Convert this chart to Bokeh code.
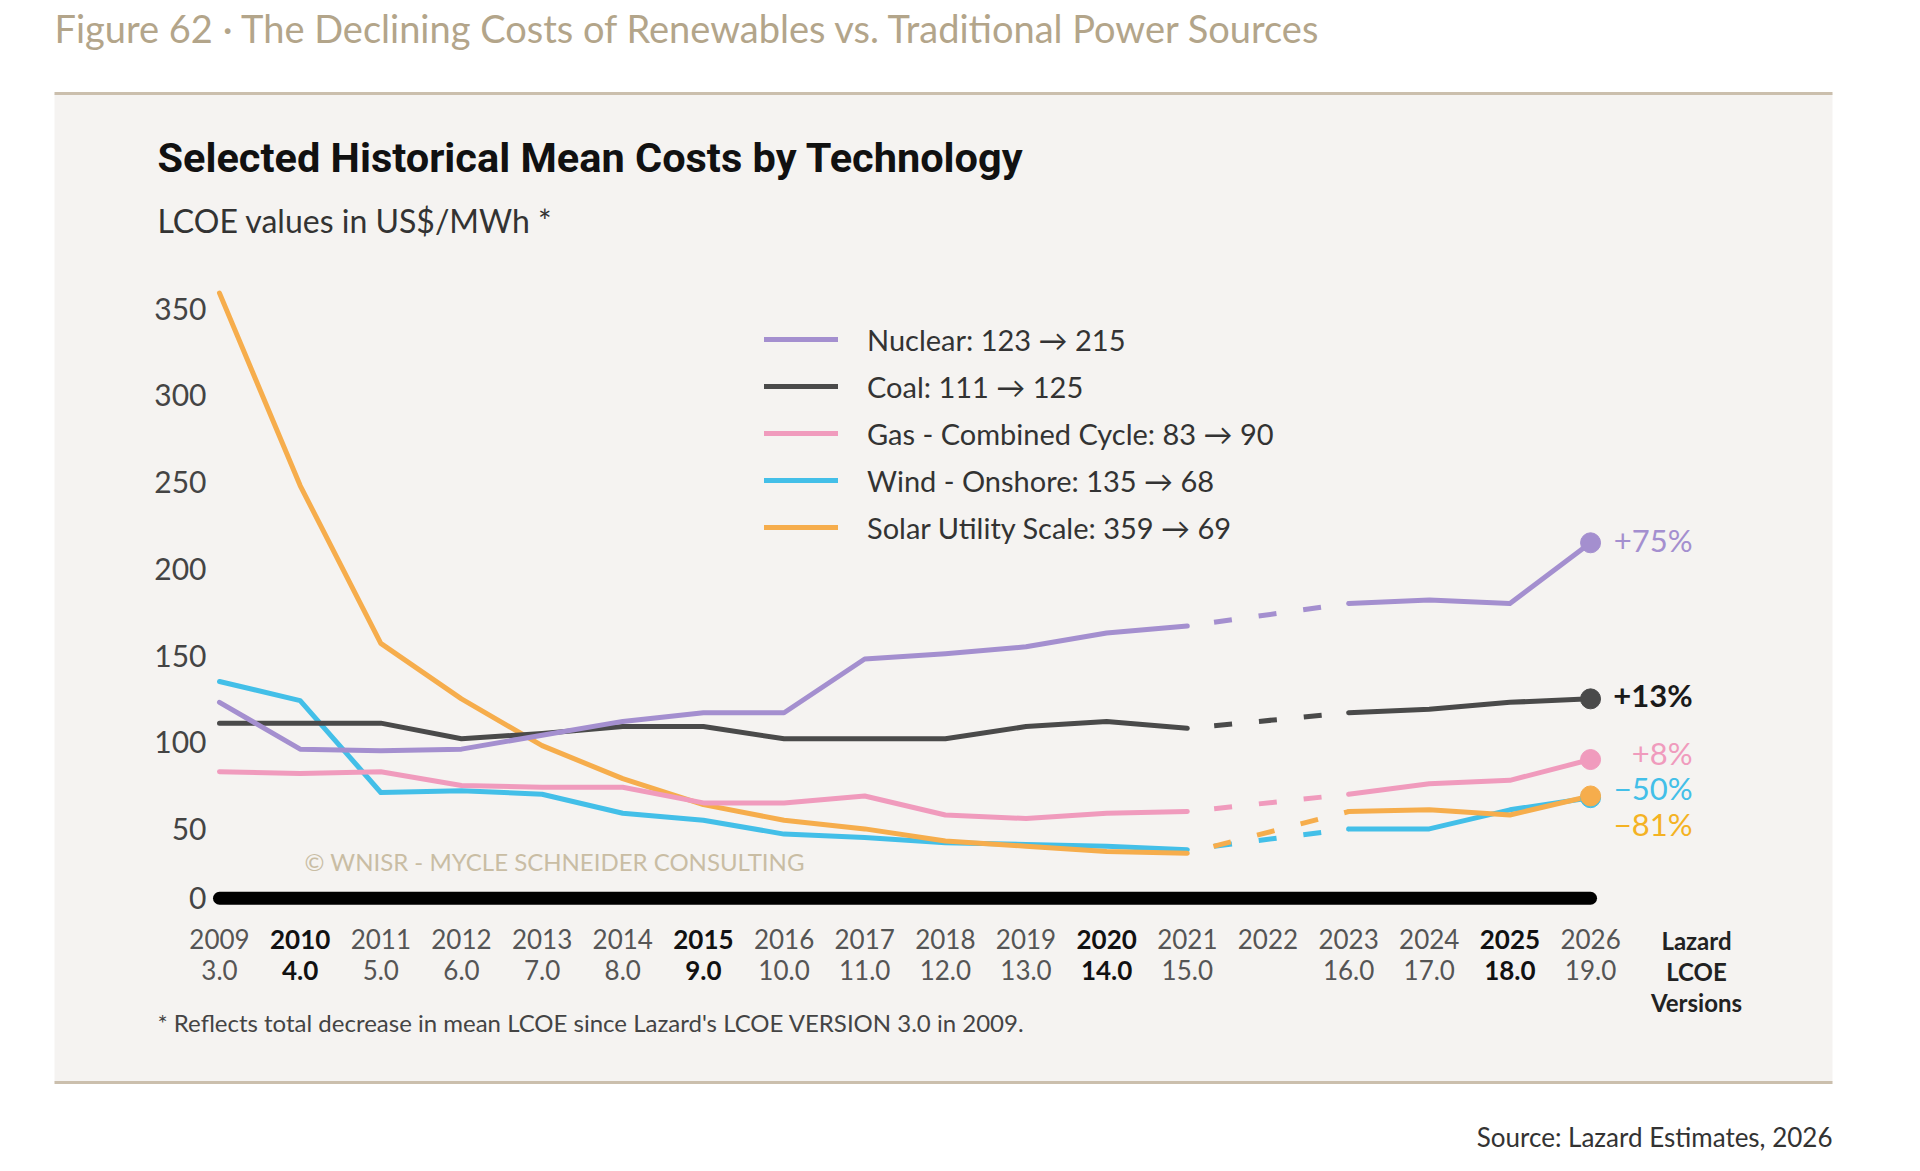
from bokeh.plotting import figure
from bokeh.models import (Range1d, LinearAxis, FixedTicker, Label, Legend,
                          LegendItem, BoxAnnotation, ColumnDataSource)
from bokeh.core.properties import value, field
from bokeh.embed import file_html
from bokeh.resources import INLINE

# ---------------- data ----------------
YEARS = [2009, 2010, 2011, 2012, 2013, 2014, 2015, 2016, 2017, 2018, 2019,
         2020, 2021, 2023, 2024, 2025, 2026]
NUCLEAR = [123, 96, 95, 96, 104, 112, 117, 117, 148, 151, 155, 163, 167, 180, 182, 180, 215]
COAL = [111, 111, 111, 102, 105, 109, 109, 102, 102, 102, 109, 112, 108, 117, 119, 123, 125]
GAS = [83, 82, 83, 75, 74, 74, 65, 65, 69, 58, 56, 59, 60, 70, 76, 78, 90]
WIND = [135, 124, 71, 72, 70, 59, 55, 47, 45, 42, 41, 40, 38, 50, 50, 61, 68]
SOLAR = [359, 248, 157, 125, 98, 79, 64, 55, 50, 43, 40, 37, 36, 60, 61, 58, 69]

LABEL_YEARS = [2009, 2010, 2011, 2012, 2013, 2014, 2015, 2016, 2017, 2018,
               2019, 2020, 2021, 2022, 2023, 2024, 2025, 2026]
VERSIONS = ["3.0", "4.0", "5.0", "6.0", "7.0", "8.0", "9.0", "10.0", "11.0",
            "12.0", "13.0", "14.0", "15.0", "", "16.0", "17.0", "18.0", "19.0"]
BOLD_YEARS = [2010, 2015, 2020, 2025]
Y_TICKS = [0, 50, 100, 150, 200, 250, 300, 350]
GAP_START, GAP_END = 2021, 2023

# ---------------- layout / style ----------------
W, H = 1900, 1160
FONT = "Lato"
BASELINE = 10          # where the drawn "0" line sits
X_PX_FIRST, PX_PER_YEAR = 219.0, 80.65     # canvas x of first year, px per year
Y_PX_100, PX_PER_UNIT = 741.7, 1.734       # canvas y of value 100, px per US$/MWh

def px2x(px):
    return YEARS[0] + (px - X_PX_FIRST) / PX_PER_YEAR

def px2y(py):
    return 100 + (Y_PX_100 - py) / PX_PER_UNIT

C_NUC, C_COAL, C_GAS, C_WIND, C_SOLAR = "#a48fcf", "#4a4a4a", "#f09bbd", "#43bfe8", "#f6ad4c"
PANEL = "#f5f3f1"
TAN = "#cbbfad"

p = figure(width=W, height=H, output_backend="svg", toolbar_location=None,
           x_range=Range1d(px2x(0), px2x(W)), y_range=Range1d(px2y(H), px2y(0)),
           x_axis_location=None, y_axis_location=None,
           min_border=0, background_fill_color="white", border_fill_color="white",
           outline_line_color=None)
p.grid.grid_line_color = None

# chart panel and its tan rules
p.add_layout(BoxAnnotation(left=px2x(54), right=px2x(1832), top=px2y(93), bottom=px2y(1082),
                           fill_color=PANEL, fill_alpha=1, line_color=None, level="underlay"))
for yy in (93, 1082):
    p.add_layout(BoxAnnotation(left=px2x(54), right=px2x(1832), top=px2y(yy - 1.5),
                               bottom=px2y(yy + 1.5), fill_color=TAN, fill_alpha=1,
                               line_color=None, level="underlay"))

# y axis
tick_pos = [BASELINE if t == 0 else t for t in Y_TICKS]
yaxis = LinearAxis(fixed_location=px2x(211), ticker=FixedTicker(ticks=tick_pos),
                   major_label_overrides={BASELINE: "0"},
                   axis_line_color=None, major_tick_line_color=None, minor_tick_line_color=None,
                   major_tick_out=0, major_tick_in=0, major_label_standoff=5,
                   major_label_text_font=FONT, major_label_text_font_size="30px",
                   major_label_text_color="#444444")
p.add_layout(yaxis, "left")

# baseline bar
p.line([LABEL_YEARS[0], LABEL_YEARS[-1]], [BASELINE, BASELINE], line_width=13,
       line_color="black", line_cap="round")

i0 = YEARS.index(GAP_START)
i1 = YEARS.index(GAP_END)
series = {
    "Nuclear": (NUCLEAR, C_NUC),
    "Coal": (COAL, C_COAL),
    "Gas - Combined Cycle": (GAS, C_GAS),
    "Wind - Onshore": (WIND, C_WIND),
    "Solar Utility Scale": (SOLAR, C_SOLAR),
}
draw_order = ["Wind - Onshore", "Solar Utility Scale", "Gas - Combined Cycle", "Coal", "Nuclear"]
first_renderer = {}
for name in draw_order:
    vals, col = series[name]
    r = p.line(YEARS[:i0 + 1], vals[:i0 + 1], line_width=5, line_color=col,
               line_join="round", line_cap="round")
    p.line(YEARS[i0:i1 + 1], vals[i0:i1 + 1], line_width=5, line_color=col,
           line_dash="18 27", line_dash_offset=18)
    p.line(YEARS[i1:], vals[i1:], line_width=5, line_color=col,
           line_join="round", line_cap="round")
    first_renderer[name] = r
for name in draw_order:
    vals, col = series[name]
    p.scatter([YEARS[-1]], [vals[-1]], size=20, fill_color=col, line_color=col)

# end labels
names = ["Nuclear", "Coal", "Gas - Combined Cycle", "Wind - Onshore", "Solar Utility Scale"]
pct = []
for n in names:
    v = series[n][0]
    ch = round((v[-1] / v[0] - 1) * 100)
    pct.append(("+" if ch > 0 else "\u2212") + f"{abs(ch)}%")
end_src = ColumnDataSource(dict(
    x=[YEARS[-1]] * 5,
    y=[series[n][0][-1] for n in names],
    t=pct,
    c=[C_NUC, "#1a1a1a", C_GAS, C_WIND, "#f4b223"],
    s=["normal", "bold", "normal", "normal", "normal"],
    dy=[-3, -4, -7, -10, 28],
))
p.text(x="x", y="y", text="t", source=end_src, x_offset=102, y_offset="dy",
       text_color="c", text_font_style=field("s"), text_align="right",
       text_baseline="middle", text_font=value(FONT), text_font_size="31px")

# x tick labels
xl_src = ColumnDataSource(dict(
    x=LABEL_YEARS,
    y=[BASELINE] * len(LABEL_YEARS),
    yr=[str(y) for y in LABEL_YEARS],
    ver=VERSIONS,
    s=["bold" if y in BOLD_YEARS else "normal" for y in LABEL_YEARS],
    c=["#111111" if y in BOLD_YEARS else "#555555" for y in LABEL_YEARS],
))
p.text(x="x", y="y", text="yr", source=xl_src, y_offset=41, text_align="center",
       text_baseline="middle", text_font=value(FONT), text_font_size="26px",
       text_font_style=field("s"), text_color="c")
p.text(x="x", y="y", text="ver", source=xl_src, y_offset=72, text_align="center",
       text_baseline="middle", text_font=value(FONT), text_font_size="26px",
       text_font_style=field("s"), text_color="c")

# legend
items = [LegendItem(label=f"{n}: {series[n][0][0]} \u2192 {series[n][0][-1]}",
                    renderers=[first_renderer[n]]) for n in names]
legend = Legend(items=items, location=(764, 615), orientation="vertical",
                glyph_width=74, glyph_height=36, label_height=36, spacing=11,
                label_standoff=29, padding=0, margin=0, border_line_color=None,
                background_fill_alpha=0, label_text_font=FONT,
                label_text_font_size="29px", label_text_color="#333333")
p.add_layout(legend)

def lab(text, x, y, size, color, style="normal", align="left", font=FONT, baseline="middle", lh=1.2):
    # x, y: canvas pixels measured from the left and from the bottom
    p.add_layout(Label(text=text, x=x, y=y, x_units="screen", y_units="screen",
                       text_font=font, text_font_size=size, text_color=color,
                       text_font_style=style, text_align=align, text_baseline=baseline,
                       text_line_height=lh))

lab("Figure 62 \u00b7 The Declining Costs of Renewables vs. Traditional Power Sources",
    54, H - 27, "38px", "#b3a58a")
lab("Selected Historical Mean Costs by Technology", 157, H - 157, "41.5px", "#111111",
    style="bold", font="Roboto")
lab("LCOE values in US$/MWh *", 157, H - 220, "32px", "#333333")
lab("\u00a9 WNISR - MYCLE SCHNEIDER CONSULTING", 304, H - 861, "24px", "#c9bda4")
lab("Lazard\nLCOE\nVersions", 1696, H - 925, "24px", "#222222", style="bold",
    align="center", baseline="top", lh=1.07)
lab("* Reflects total decrease in mean LCOE since Lazard's  LCOE VERSION 3.0 in 2009.",
    157, H - 1022, "24px", "#444444")
lab("Source: Lazard Estimates, 2026", 1832, H - 1136, "26px", "#333333", align="right")

open("out.html", "w").write(file_html(p, INLINE))
